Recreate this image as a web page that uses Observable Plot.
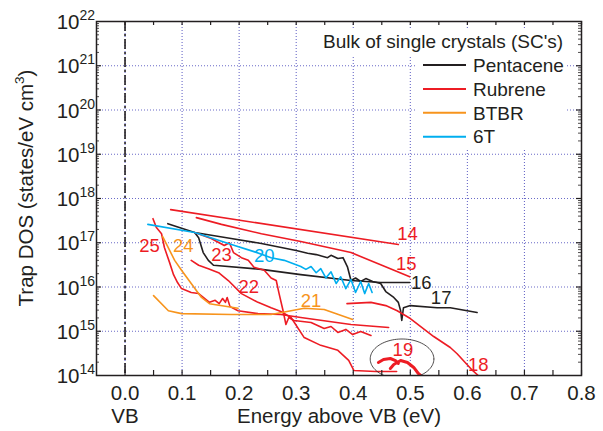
<!DOCTYPE html>
<html><head><meta charset="utf-8">
<script src="https://cdn.jsdelivr.net/npm/d3@7"></script>
<script src="https://cdn.jsdelivr.net/npm/@observablehq/plot@0.6"></script>
<style>
body{margin:0;background:#fff;}
#chart{width:603px;height:431px;}
</style></head><body><div id="chart"></div>
<script>
// ---------- data (energy above VB in eV, trap DOS in states/eV cm^3) ----------
const pentacene16 = [[0.122,1.7e17],[0.129,1.3e17],[0.137,6.0e16],[0.146,4.0e16],[0.155,3.1e16],[0.239,2.5e16],[0.308,1.9e16],[0.396,1.4e16],[0.448,1.26e16],[0.499,1.26e16]];
const pentacene17 = [[0.075,2.7e17],[0.122,1.7e17],[0.186,1.25e17],[0.239,9.6e16],[0.300,6.7e16],[0.320,5.8e16],[0.335,5.4e16],[0.355,4.6e16],[0.361,5.2e16],[0.373,4.4e16],[0.382,4.6e16],[0.390,2.8e16],[0.396,1.4e16],[0.404,1.6e16],[0.413,1.33e16],[0.422,1.55e16],[0.434,1.33e16],[0.448,1.2e16],[0.457,7.9e15],[0.471,5.8e15],[0.479,4.5e15],[0.483,2.9e15],[0.485,1.75e15],[0.488,3.4e15],[0.500,3.8e15],[0.547,3.4e15],[0.570,3.4e15],[0.617,2.65e15]];
const rubrene14 = [[0.080,5.6e17],[0.479,9.1e16]];
const rubrene15 = [[0.125,3.7e17],[0.169,2.6e17],[0.239,1.6e17],[0.308,1.07e17],[0.396,6.0e16],[0.448,3.2e16],[0.499,1.7e16]];
const rubrene18 = [[0.389,4.2e15],[0.431,4.5e15],[0.457,3.8e15],[0.477,2.9e15],[0.500,1.94e15],[0.541,7.6e14],[0.570,4.3e14],[0.582,3.1e14],[0.609,1.3e14],[0.619,1.0e14]];
const rubrene19a = [[0.444,1.97e14],[0.453,2.3e14],[0.465,2.42e14],[0.474,2.18e14],[0.479,1.87e14]];
const rubrene19b = [[0.465,1.44e14],[0.471,1.77e14],[0.483,2.18e14],[0.495,1.97e14],[0.506,1.52e14],[0.514,1.11e14],[0.518,1.0e14]];
const rubrene22 = [[0.116,4.0e16],[0.129,3.1e16],[0.146,2.6e16],[0.164,2.1e16],[0.181,1.4e16],[0.204,7.1e15],[0.233,4.5e15],[0.256,3.4e15],[0.273,2.8e15],[0.291,2.05e15],[0.314,7.2e14],[0.343,4.8e14],[0.373,3.7e14],[0.392,2.2e14],[0.401,1.3e14],[0.439,1.23e14],[0.476,1.23e14]];
const rubrene23 = [[0.122,1.7e17],[0.151,1.25e17],[0.174,8.7e16],[0.183,1.0e17],[0.190,6.0e16],[0.204,4.6e16],[0.216,4.0e16],[0.226,2.8e16],[0.244,2.4e16],[0.256,1.6e16],[0.265,1.4e16],[0.270,7.1e15],[0.277,2.9e15],[0.282,1.42e15],[0.287,2.05e15],[0.296,1.75e15],[0.326,1.58e15],[0.349,1.15e15],[0.361,1.28e15],[0.373,9.4e14],[0.387,1.1e15],[0.399,8.4e14],[0.413,9.9e14],[0.431,8.0e14]];
const rubrene25 = [[0.049,3.5e17],[0.055,2.2e17],[0.064,1.6e17],[0.069,7.8e16],[0.078,3.6e16],[0.085,1.9e16],[0.092,1.26e16],[0.099,9.2e15],[0.116,7.5e15],[0.129,7.1e15],[0.148,4.5e15],[0.158,5.0e15],[0.165,4.2e15],[0.171,5.5e15],[0.176,4.5e15],[0.179,5.8e15],[0.184,3.6e15],[0.198,2.9e15],[0.233,2.5e15],[0.273,2.4e15],[0.308,2.05e15],[0.396,1.42e15],[0.462,1.22e15]];
const btbr21 = [[0.050,6.4e15],[0.076,2.9e15],[0.099,2.5e15],[0.186,2.4e15],[0.256,2.4e15],[0.291,2.9e15],[0.314,3.3e15],[0.349,3.1e15],[0.399,1.85e15]];
const btbr24 = [[0.066,1.38e17],[0.087,4.0e16],[0.099,2.4e16],[0.116,1.2e16],[0.134,5.8e15],[0.148,4.2e15],[0.198,3.3e15]];
const sixT20 = [[0.040,2.6e17],[0.122,1.7e17],[0.192,8.7e16],[0.226,6.3e16],[0.256,4.6e16],[0.279,4.0e16],[0.308,2.9e16],[0.317,2.5e16],[0.326,2.9e16],[0.335,2.1e16],[0.343,2.6e16],[0.352,1.6e16],[0.361,2.2e16],[0.370,1.2e16],[0.378,1.7e16],[0.387,9.2e15],[0.396,1.48e16],[0.404,7.5e15],[0.413,1.33e16],[0.420,7.1e15],[0.427,1.2e16],[0.433,7.5e15]];

const curveLabels = [
  {id:"14", E:0.495, D:1.6e17, mat:"Rubrene"},
  {id:"15", E:0.493, D:3.3e16, mat:"Rubrene"},
  {id:"16", E:0.519, D:1.23e16, mat:"Pentacene"},
  {id:"17", E:0.554, D:5.6e15, mat:"Pentacene"},
  {id:"18", E:0.619, D:1.68e14, mat:"Rubrene"},
  {id:"19", E:0.487, D:3.8e14, mat:"Rubrene"},
  {id:"20", E:0.244, D:4.9e16, mat:"6T"},
  {id:"21", E:0.326, D:4.7e15, mat:"BTBR"},
  {id:"22", E:0.217, D:1.0e16, mat:"Rubrene"},
  {id:"23", E:0.169, D:5.3e16, mat:"Rubrene"},
  {id:"24", E:0.102, D:8.4e16, mat:"BTBR"},
  {id:"25", E:0.043, D:8.4e16, mat:"Rubrene"}
];
const materials = ["Pentacene","Rubrene","BTBR","6T"];
const materialColors = ["#231f20","#ed1c24","#f7941d","#00aeef"];
const xTicks = [0.0,0.1,0.2,0.3,0.4,0.5,0.6,0.7,0.8];
const xTickLabels = ["0.0","0.1","0.2","0.3","0.4","0.5","0.6","0.7","0.8"];
const xMinorTicks = [0.05,0.15,0.25,0.35,0.45,0.55,0.65,0.75];
const yExponents = [14,15,16,17,18,19,20,21,22];
// circled annotation around curve 19 (centre and half-widths)
const circle19 = {E:0.4855, D:2.36e14, halfE:0.0558, halfDecades:0.452};

// ---------- build ----------
const colorOf = Object.fromEntries(materials.map((m,i)=>[m, materialColors[i]]));
const series = [
  {pts:pentacene16, mat:"Pentacene"},{pts:pentacene17, mat:"Pentacene"},
  {pts:rubrene14, mat:"Rubrene"},{pts:rubrene15, mat:"Rubrene"},{pts:rubrene18, mat:"Rubrene"},
  {pts:rubrene22, mat:"Rubrene"},{pts:rubrene23, mat:"Rubrene"},{pts:rubrene25, mat:"Rubrene"},
  {pts:btbr21, mat:"BTBR"},{pts:btbr24, mat:"BTBR"},
  {pts:sixT20, mat:"6T"}
];
const yDecades = yExponents.map(e => 10 ** e);
const yGrid = yDecades.slice(1, -1);
const yMinor = d3.range(14, 22).flatMap(e => d3.range(2, 10).map(k => k * 10 ** e));
const ellipsePts = d3.range(0, 361, 4).map(a => {
  const t = a * Math.PI / 180;
  return [circle19.E + circle19.halfE * Math.cos(t), circle19.D * 10 ** (circle19.halfDecades * Math.sin(t))];
});

const FONT = "'Liberation Sans', Arial, Helvetica, sans-serif";
const ML = 96, MR = 22, MT = 21, MB = 56, W = 603, H = 431;
const IW = W - ML - MR, IH = H - MT - MB;
const GRID = "#6a6ac8";
const INK = "#231f20";

const marks = [
  Plot.ruleX(xTicks.slice(0, -1), {x: d => d, stroke: GRID, strokeWidth: 1.1, strokeDasharray: "1,2"}),
  Plot.ruleY(yGrid, {y: d => d, stroke: GRID, strokeWidth: 1.1, strokeDasharray: "1,2"}),
  Plot.ruleX([0], {x: d => d, stroke: INK, strokeWidth: 1.6, strokeDasharray: "10,3,2,3"}),
  ...series.map(s => Plot.line(s.pts, {x: d => d[0], y: d => d[1], stroke: colorOf[s.mat], strokeWidth: 1.6, clip: true})),
  Plot.line(rubrene19a, {x: d => d[0], y: d => d[1], stroke: colorOf.Rubrene, strokeWidth: 3, clip: true}),
  Plot.line(rubrene19b, {x: d => d[0], y: d => d[1], stroke: colorOf.Rubrene, strokeWidth: 3, clip: true}),
  Plot.line(ellipsePts, {x: d => d[0], y: d => d[1], stroke: INK, strokeWidth: 0.8, clip: true}),
  Plot.text(curveLabels, {x: "E", y: "D", text: "id", fill: d => colorOf[d.mat], fontSize: 18.5}),
  // inward ticks
  Plot.tickY(yGrid, {y: d => d, stroke: INK, strokeWidth: 1.2, insetRight: IW - 5}),
  Plot.tickY(yMinor, {y: d => d, stroke: INK, strokeWidth: 0.8, insetRight: IW - 3}),
  Plot.tickY(yGrid, {y: d => d, stroke: INK, strokeWidth: 1.2, insetLeft: IW - 5}),
  Plot.tickY(yMinor, {y: d => d, stroke: INK, strokeWidth: 0.8, insetLeft: IW - 3}),
  Plot.tickX(xTicks.concat(xMinorTicks), {x: d => d, stroke: INK, strokeWidth: 1.2, insetTop: IH - 5}),
  Plot.tickX(xTicks.concat(xMinorTicks), {x: d => d, stroke: INK, strokeWidth: 1.2, insetBottom: IH - 4}),
  Plot.frame({stroke: INK, strokeWidth: 1.5}),
  // tick labels
  Plot.text(yDecades, {y: d => d, frameAnchor: "left", text: () => "10", textAnchor: "end", lineAnchor: "bottom", dx: -17, dy: 7.5, fontSize: 20.5, fill: INK}),
  Plot.text(yDecades, {y: d => d, frameAnchor: "left", text: (d, i) => String(yExponents[i]), textAnchor: "start", lineAnchor: "bottom", dx: -17, dy: -1.5, fontSize: 14, fill: INK}),
  Plot.text(xTicks, {x: d => d, frameAnchor: "bottom", text: (d, i) => xTickLabels[i], lineAnchor: "bottom", dy: 24.5, fontSize: 20.5, fill: INK}),
  Plot.text(["VB"], {x: () => 0, frameAnchor: "bottom", text: d => d, lineAnchor: "bottom", dy: 47, fontSize: 20.5, fill: INK}),
  Plot.text(["Energy above VB (eV)"], {frameAnchor: "bottom", text: d => d, lineAnchor: "bottom", dy: 47, fontSize: 20.5, fill: INK})
];

const plot = Plot.plot({
  width: W, height: H,
  marginLeft: ML, marginRight: MR, marginTop: MT, marginBottom: MB,
  x: {domain: [-0.05, 0.8], axis: null},
  y: {type: "log", domain: [1e14, 1e22], axis: null},
  color: {type: "identity"},
  style: {fontFamily: FONT, background: "white", overflow: "visible"},
  marks
});

// y-axis title
const svg = d3.select(plot);
const yt = svg.append("text")
  .attr("transform", "translate(33,188) rotate(-90)")
  .attr("text-anchor", "middle").attr("font-family", FONT).attr("font-size", 20.5).attr("fill", INK);
yt.append("tspan").text("Trap DOS (states/eV cm");
yt.append("tspan").attr("font-size", 13.5).attr("dy", -9).text("3");
yt.append("tspan").attr("dy", 9).text(")");

// legend
const lg = svg.append("g").attr("font-family", FONT).attr("fill", INK).attr("text-anchor", "start");
lg.append("rect").attr("x", 320).attr("y", 28).attr("width", 249).attr("height", 27).attr("fill", "white");
lg.append("rect").attr("x", 416).attr("y", 54).attr("width", 150).attr("height", 94).attr("fill", "white");
lg.append("text").attr("x", 323).attr("y", 47.5).attr("font-size", 19).attr("text-anchor", "start").text("Bulk of single crystals (SC's)");
materials.forEach((m, i) => {
  const yb = 71.7 + i * 23.9;
  lg.append("line").attr("x1", 423).attr("x2", 466).attr("y1", yb - 6.7).attr("y2", yb - 6.7)
    .attr("stroke", materialColors[i]).attr("stroke-width", 2);
  lg.append("text").attr("x", 473).attr("y", yb).attr("font-size", 19).attr("text-anchor", "start").text(m);
});

document.getElementById("chart").append(plot);
</script>
</body></html>
